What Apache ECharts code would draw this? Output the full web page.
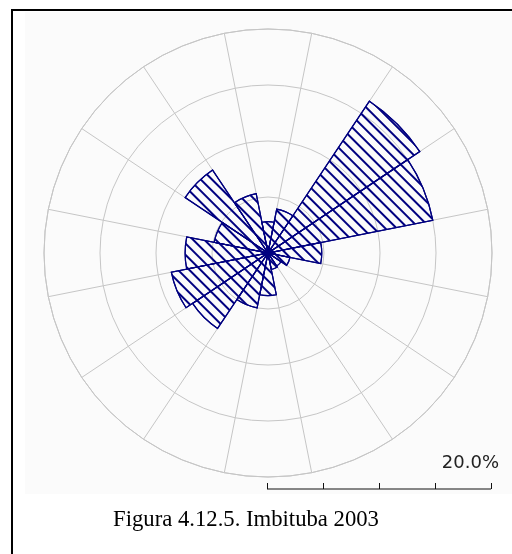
<!DOCTYPE html>
<html>
<head>
<meta charset="utf-8">
<script src="https://cdn.jsdelivr.net/npm/echarts@6/dist/echarts.min.js"></script>
<style>
  html, body { margin: 0; padding: 0; background: #ffffff; }
  #chart { width: 512px; height: 554px; }
</style>
</head>
<body>
<div id="chart"></div>
<script>
// Wind directions (16 sectors, clockwise from north)
const directions = ['N', 'NNE', 'NE', 'ENE', 'E', 'ESE', 'SE', 'SSE',
                    'S', 'SSW', 'SW', 'WSW', 'W', 'WNW', 'NW', 'NNW'];
// Frequency of occurrence per direction (%)
const frequencies = [2.8, 4.0, 16.3, 15.0, 4.8, 2.0, 1.4, 1.5,
                     3.8, 5.0, 8.1, 8.8, 7.4, 4.9, 8.9, 5.4];
// Concentric rings (%)
const ringTicks = [0, 5, 10, 15, 20];
const scaleLabel = '20.0%';
const captionText = 'Figura 4.12.5. Imbituba 2003';

const CX = 268, CY = 253, R = 224;
const NAVY = '#000080';
const GRID = '#c6c6c6';

const chart = echarts.init(document.getElementById('chart'), null, { renderer: 'canvas' });

const rMax = ringTicks[ringTicks.length - 1];
const step = ringTicks[1] - ringTicks[0];

// Scale bar below the rose: one tick per ring
const barX0 = CX - 1, barY = 489;
const scaleElems = [{
  type: 'line',
  shape: { x1: barX0, y1: barY, x2: barX0 + R, y2: barY },
  style: { stroke: '#111', lineWidth: 1 }
}];
ringTicks.forEach(function (t) {
  const x = Math.round(barX0 + t / rMax * R) + 0.5;
  scaleElems.push({
    type: 'line',
    shape: { x1: x, y1: barY - 6, x2: x, y2: barY },
    style: { stroke: '#111', lineWidth: 1 }
  });
});

chart.setOption({
  animation: false,
  backgroundColor: '#ffffff',
  polar: { center: [CX, CY], radius: R },
  angleAxis: {
    type: 'category',
    data: directions,
    startAngle: 90 + 360 / directions.length / 2,
    clockwise: true,
    boundaryGap: true,
    axisLine: { show: true, lineStyle: { color: GRID, width: 1 } },
    axisTick: { show: false },
    axisLabel: { show: false },
    splitLine: { show: true, lineStyle: { color: GRID, width: 1 } }
  },
  radiusAxis: {
    type: 'value',
    min: 0,
    max: rMax,
    interval: step,
    axisLine: { show: false },
    axisTick: { show: false },
    axisLabel: { show: false },
    splitLine: { show: true, lineStyle: { color: GRID, width: 1 } }
  },
  series: [{
    type: 'bar',
    coordinateSystem: 'polar',
    data: frequencies,
    barCategoryGap: '0%',
    itemStyle: {
      color: 'rgba(255,255,255,0)',
      borderColor: NAVY,
      borderWidth: 1.2,
      decal: {
        symbol: 'rect',
        symbolSize: 1,
        color: NAVY,
        backgroundColor: 'rgba(255,255,255,0)',
        dashArrayX: [1, 0],
        dashArrayY: [1.2, 5.2],
        rotation: Math.PI / 4
      }
    },
    emphasis: { disabled: true }
  }],
  graphic: [
    {
      type: 'rect', z: -10, silent: true,
      shape: { x: 25, y: 12, width: 490, height: 482 },
      style: { fill: '#fbfbfb' }
    },
    {
      type: 'polyline', z: 10, silent: true,
      shape: { points: [[12, 600], [12, 10], [600, 10]] },
      style: { stroke: '#000', lineWidth: 2, fill: null }
    },
    { type: 'group', z: 10, children: scaleElems },
    {
      type: 'text', z: 10,
      style: {
        x: 499, y: 472, text: scaleLabel,
        textAlign: 'right', textVerticalAlign: 'bottom',
        font: '18px "DejaVu Sans"', fill: '#222'
      }
    },
    {
      type: 'text', z: 10,
      style: {
        x: 246, y: 532, text: captionText,
        textAlign: 'center', textVerticalAlign: 'bottom',
        font: '22.7px "Liberation Serif"', fill: '#000'
      }
    }
  ]
});
</script>
</body>
</html>
